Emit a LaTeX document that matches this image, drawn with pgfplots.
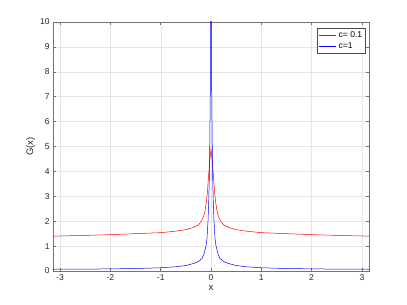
\documentclass[border=0pt]{standalone}
\usepackage{fontspec}
\setmainfont{Liberation Sans}
\usepackage{pgfplots}
\pgfplotsset{compat=1.18}
\begin{document}
\begin{tikzpicture}
\path (0,0) rectangle (407bp,305bp);
\begin{axis}[
  at={(53bp,34bp)}, anchor=south west,
  scale only axis, width=316bp, height=249bp,
  xmin=-3.14159, xmax=3.14159, ymin=0, ymax=10,
  xtick={-3,-2,-1,0,1,2,3}, ytick={0,1,...,10},
  grid=major, major grid style={black!10, line width=0.4pt},
  axis line style={black!55, line width=0.5pt},
  tick style={black!55, line width=0.5pt},
  tick align=inside, major tick length=3bp,
  xtick pos=both, ytick pos=both,
  tick label style={font=\fontsize{8.5bp}{10bp}\selectfont, text=black!85},
  /pgf/number format/assume math mode=true,
  xlabel={x}, ylabel={G(x)},
  label style={font=\fontsize{9.5bp}{11bp}\selectfont, text=black!85},
  xlabel style={yshift=2bp},
  ylabel style={yshift=-2bp},
  legend style={at={(rel axis cs:0.99,0.975)}, anchor=north east,
    font=\fontsize{8.5bp}{10bp}\selectfont, draw=black!70, line width=0.5pt,
    inner sep=1.5bp, row sep=-1bp},
  legend cell align=left,
  legend image post style={line width=0.6pt},
]
\addplot[red, line width=0.5pt] coordinates {
(-3.14159,1.40) (-2.5,1.43) (-2,1.46) (-1.5,1.50) (-1,1.54) (-0.7,1.60)
(-0.5,1.66) (-0.35,1.75) (-0.25,1.85) (-0.2,1.98) (-0.15,2.18) (-0.12,2.4)
(-0.09,2.8) (-0.07,3.2) (-0.05,3.8) (-0.025,4.4) (0,4.9)
(0.025,4.4) (0.05,3.8) (0.07,3.2) (0.09,2.8) (0.12,2.4) (0.15,2.18)
(0.2,1.98) (0.25,1.85) (0.35,1.75) (0.5,1.66) (0.7,1.60) (1,1.54)
(1.5,1.50) (2,1.46) (2.5,1.43) (3.14159,1.40)
};
\addlegendentry{c= 0.1}
\addplot[blue, line width=0.5pt] coordinates {
(-3.14159,0.07) (-2.5,0.075) (-2,0.085) (-1.5,0.10) (-1,0.13) (-0.7,0.17)
(-0.5,0.22) (-0.35,0.30) (-0.25,0.38) (-0.18,0.5) (-0.14,0.68) (-0.1,1.0)
(-0.08,1.3) (-0.06,2.0) (-0.045,2.8) (-0.03,4.0) (-0.015,7) (0,20)
(0.015,7) (0.03,4.0) (0.045,2.8) (0.06,2.0) (0.08,1.3) (0.1,1.0)
(0.14,0.68) (0.18,0.5) (0.25,0.38) (0.35,0.30) (0.5,0.22) (0.7,0.17)
(1,0.13) (1.5,0.10) (2,0.085) (2.5,0.075) (3.14159,0.07)
};
\addlegendentry{c=1}
\end{axis}
\end{tikzpicture}
\end{document}
